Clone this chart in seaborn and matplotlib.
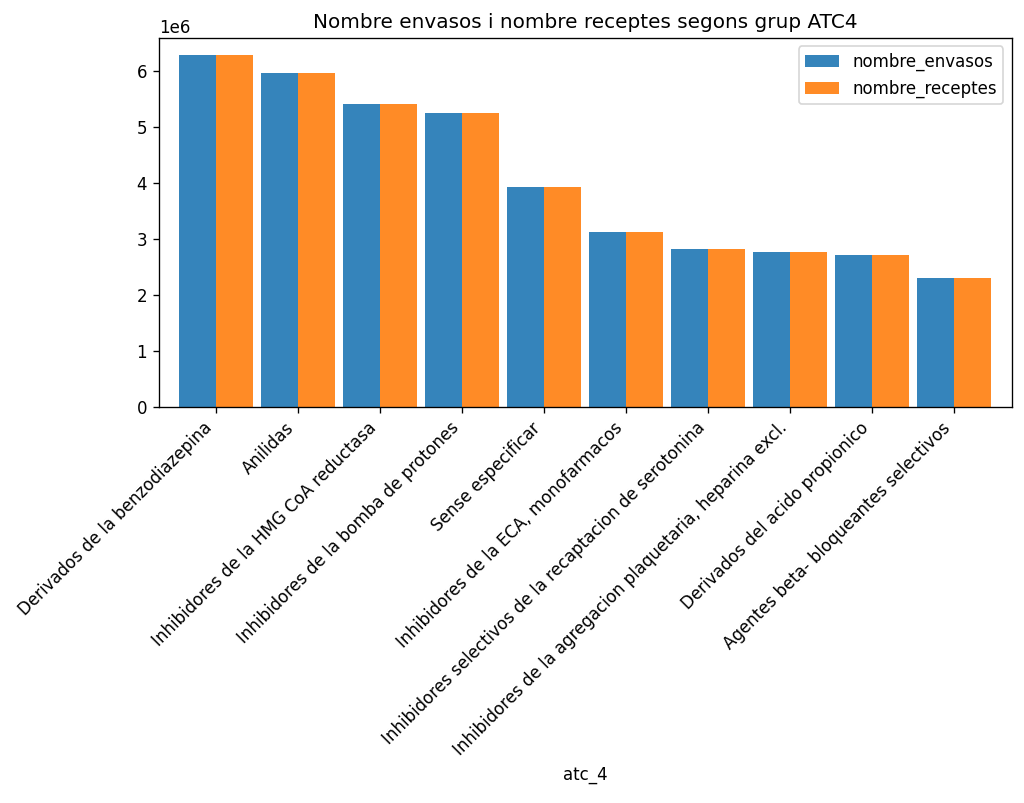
import numpy as np
import pandas as pd
import matplotlib
matplotlib.use("Agg")
import matplotlib.pyplot as plt
import seaborn as sns

# ATC4 groups and totals (units of 1e6)
atc_4 = [
    "Derivados de la benzodiazepina",
    "Anilidas",
    "Inhibidores de la HMG CoA reductasa",
    "Inhibidores de la bomba de protones",
    "Sense especificar",
    "Inhibidores de la ECA, monofarmacos",
    "Inhibidores selectivos de la recaptacion de serotonina",
    "Inhibidores de la agregacion plaquetaria, heparina excl.",
    "Derivados del acido propionico",
    "Agentes beta- bloqueantes selectivos",
]
nombre_envasos = [6.28, 5.96, 5.41, 5.26, 3.93, 3.13, 2.82, 2.78, 2.71, 2.30]
nombre_receptes = [6.28, 5.96, 5.41, 5.26, 3.93, 3.13, 2.82, 2.78, 2.71, 2.30]

df = pd.DataFrame({
    "atc_4": atc_4,
    "nombre_envasos": np.array(nombre_envasos) * 1e6,
    "nombre_receptes": np.array(nombre_receptes) * 1e6,
})
long_df = df.melt(id_vars="atc_4", var_name="serie", value_name="valor")

dpi = 120
fig = plt.figure(figsize=(1024 / dpi, 803 / dpi), dpi=dpi)
ax = fig.add_axes([0.155, 0.4928, 0.833, 0.46])

sns.barplot(data=long_df, x="atc_4", y="valor", hue="serie",
            palette=["#1f77b4", "#ff7f0e"], width=0.9, saturation=1,
            alpha=0.9, ax=ax, errorbar=None)

ax.set_xlim(-0.7, len(atc_4) - 0.3)
ax.set_title("Nombre envasos i nombre receptes segons grup ATC4")
ax.set_xlabel("atc_4")
ax.set_ylabel("")
ax.set_xticks(range(len(atc_4)))
ax.set_xticklabels(atc_4, rotation=45, ha="right")
ax.legend(title=None, loc="upper right")

fig.savefig("out.png", dpi=dpi)
